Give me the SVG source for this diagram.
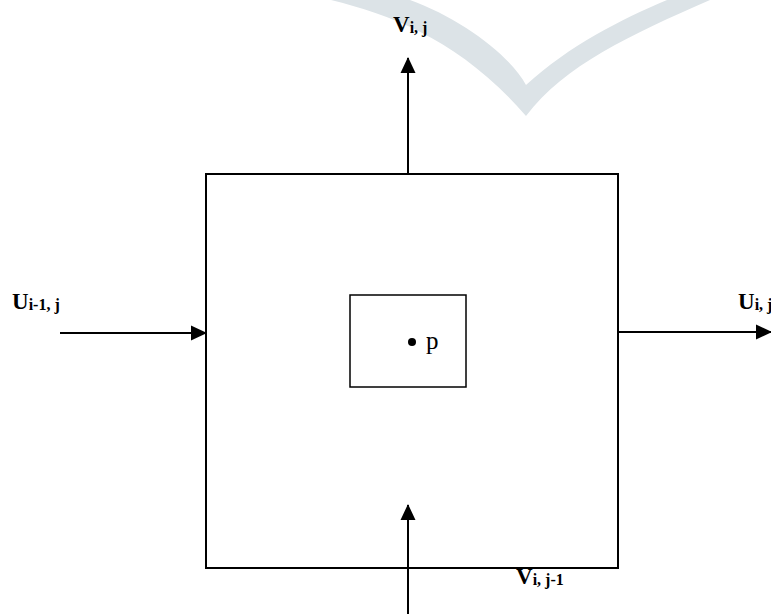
<svg xmlns="http://www.w3.org/2000/svg" width="771" height="614" viewBox="0 0 771 614">
<style>
.box{fill:none;stroke:#000}
.conn{stroke:#000;stroke-width:2;fill:none}
.lbl{font-family:"Liberation Serif","Times New Roman",serif;font-weight:bold;font-size:23px;fill:#000}
.sub{font-size:16px}
.p{font-family:"Liberation Serif","Times New Roman",serif;font-size:25px;fill:#000}
</style>
<defs>
<marker id="ah" markerUnits="userSpaceOnUse" markerWidth="16" markerHeight="16" viewBox="0 0 16 16" refX="15" refY="8" orient="auto">
<path d="M0,0.5 L16,8 L0,15.5 Z" fill="#000"/>
</marker>
</defs>
<rect width="771" height="614" fill="#fff"/>
<path id="watermark" d="M331,0 C395,16 462,42 526,116 C565,65 630,35 710,0 L667,0 C620,20 570,45 526,85 C510,55 460,18 410,0 Z" fill="#dce3e7"/>
<g id="cell">
<rect class="box" x="206" y="174" width="412" height="394" stroke-width="2"/>
</g>
<g id="point">
<rect class="box" x="350" y="295" width="116" height="92" stroke-width="1.5"/>
<circle cx="412" cy="342" r="4" fill="#000"/>
<text class="p" x="426" y="349">p</text>
</g>
<g id="connectors">
<line class="conn" x1="408" y1="174" x2="408" y2="58" marker-end="url(#ah)"/>
<line class="conn" x1="408" y1="614" x2="408" y2="505" marker-end="url(#ah)"/>
<line class="conn" x1="60" y1="333" x2="206" y2="333" marker-end="url(#ah)"/>
<line class="conn" x1="618" y1="332" x2="771" y2="332" marker-end="url(#ah)"/>
</g>
<g id="label-v-top"><text class="lbl" x="393" y="32">V<tspan class="sub" dy="1">i, j</tspan></text></g>
<g id="label-u-left"><text class="lbl" x="12" y="309">U<tspan class="sub" dy="1">i-1, j</tspan></text></g>
<g id="label-u-right"><text class="lbl" x="738" y="309">U<tspan class="sub" dy="1">i, j</tspan></text></g>
<g id="label-v-bottom"><text class="lbl" x="516" y="584">V<tspan class="sub" dy="1">i, j-1</tspan></text></g>
</svg>
